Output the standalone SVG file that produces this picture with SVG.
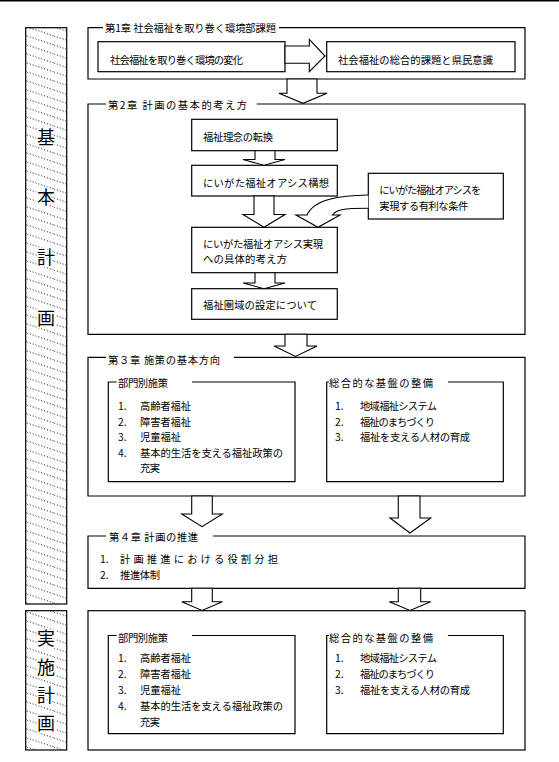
<svg xmlns="http://www.w3.org/2000/svg" width="559" height="762" viewBox="0 0 559 762">
<defs>
<pattern id="hatch" patternUnits="userSpaceOnUse" width="27" height="9">
<line x1="0" y1="0" x2="27" y2="9" stroke="#000" stroke-width="0.9" stroke-dasharray="1 2"/>
</pattern>
</defs>
<style>
.f{fill:none;stroke:#000;stroke-width:1.2}
.b{fill:#fff;stroke:#000;stroke-width:1.2}
.a{fill:#fff;stroke:#000;stroke-width:1.1;stroke-linejoin:miter}
text{font-family:"Noto Sans CJK JP","Noto Sans",sans-serif;font-size:10.3px;fill:#000}
.v{font-size:18px;text-anchor:middle;stroke:#fff;stroke-width:3;paint-order:stroke}
</style>
<rect x="0" y="0" width="559" height="1.5" fill="#000"/>

<g id="side-kihon">
<rect x="25.7" y="27.7" width="41" height="576.3" fill="url(#hatch)" stroke="#000" stroke-width="1.2"/>
<text class="v" x="46" y="143.5">基</text>
<text class="v" x="46" y="203.5">本</text>
<text class="v" x="46" y="263.5">計</text>
<text class="v" x="46" y="325">画</text>
</g>
<g id="side-jisshi">
<rect x="25.7" y="610.7" width="41" height="139.3" fill="url(#hatch)" stroke="#000" stroke-width="1.2"/>
<text class="v" x="46" y="645">実</text>
<text class="v" x="46" y="674">施</text>
<text class="v" x="46" y="702">計</text>
<text class="v" x="46" y="730">画</text>
</g>

<g id="ch1">
<path class="f" d="M103 27.7 H88 V79 H525 V27.7 H279"/>
<text x="105" y="32" textLength="171">第1章 社会福祉を取り巻く環境部課題</text>
<g id="ch1-env">
<rect class="b" x="98" y="41.7" width="187" height="30"/>
<text x="110" y="64" textLength="133">社会福祉を取り巻く環境の変化</text>
</g>
<g id="ch1-issue">
<rect class="b" x="326.7" y="41.7" width="188.3" height="30"/>
<text x="338" y="64" textLength="155">社会福祉の総合的課題と県民意識</text>
</g>
</g>

<g id="ch2">
<path class="f" d="M106 104 H88 V334.3 H525 V104 H256.7"/>
<text x="108" y="109" textLength="139">第2章 計画の基本的考え方</text>
<g id="ch2-rinen">
<rect class="b" x="191.7" y="119.3" width="145.6" height="31.4"/>
<text x="203" y="140.7" textLength="70">福祉理念の転換</text>
</g>
<g id="ch2-kousou">
<rect class="b" x="191.7" y="165.3" width="145.6" height="30.7"/>
<text x="203" y="186.7" textLength="126">にいがた福祉オアシス構想</text>
</g>
<g id="ch2-gutai">
<rect class="b" x="191.7" y="227.3" width="145.6" height="45.4"/>
<text x="203" y="248" textLength="120">にいがた福祉オアシス実現</text>
<text x="203" y="263" textLength="84">への具体的考え方</text>
</g>
<g id="ch2-kengiki">
<rect class="b" x="191.7" y="288.7" width="145.6" height="30.6"/>
<text x="203" y="309" textLength="114">福祉圏域の設定について</text>
</g>
<g id="ch2-jouken">
<rect class="b" x="368.3" y="173.3" width="135" height="45.7"/>
<text x="379.3" y="194" textLength="102">にいがた福祉オアシスを</text>
<text x="379.3" y="209.7" textLength="89">実現する有利な条件</text>
</g>
</g>

<g id="ch3">
<path class="f" d="M106 357.3 H88 V496 H525 V357.3 H234"/>
<text x="108" y="364" textLength="112">第３章 施策の基本方向</text>
<g id="ch3-bumon">
<path class="f" d="M116.7 382 H108.3 V481.7 H295 V382 H192"/>
<text x="118" y="387" textLength="50">部門別施策</text>
<text x="118" y="410">1.</text><text x="140" y="410" textLength="51">高齢者福祉</text>
<text x="118" y="426">2.</text><text x="140" y="426" textLength="51">障害者福祉</text>
<text x="118" y="441">3.</text><text x="140" y="441" textLength="41">児童福祉</text>
<text x="118" y="457">4.</text><text x="140" y="457" textLength="143">基本的生活を支える福祉政策の</text>
<text x="140" y="471.5" textLength="20">充実</text>
</g>
<g id="ch3-kiban">
<path class="f" d="M329 382 H326.7 V481.7 H503.3 V382 H448"/>
<text x="329" y="387" textLength="104">総合的な基盤の整備</text>
<text x="335" y="410">1.</text><text x="360" y="410" textLength="77">地域福祉システム</text>
<text x="335" y="426">2.</text><text x="360" y="426" textLength="75">福祉のまちづくり</text>
<text x="335" y="441">3.</text><text x="360" y="441" textLength="110">福祉を支える人材の育成</text>
</g>
</g>

<g id="ch4">
<path class="f" d="M106 536 H88 V588.3 H525 V536 H213"/>
<text x="109" y="540.7" textLength="89">第４章 計画の推進</text>
<text x="100" y="563">1.</text><text x="120" y="563" textLength="158">計画推進における役割分担</text>
<text x="100" y="579">2.</text><text x="120" y="579" textLength="40">推進体制</text>
</g>

<g id="jisshi">
<rect class="f" x="88" y="610.7" width="437" height="139.3"/>
<g id="jisshi-bumon">
<path class="f" d="M116.7 635.5 H108.3 V733.7 H295 V635.5 H192"/>
<text x="118" y="642" textLength="50">部門別施策</text>
<text x="118" y="662">1.</text><text x="140" y="662" textLength="51">高齢者福祉</text>
<text x="118" y="678">2.</text><text x="140" y="678" textLength="51">障害者福祉</text>
<text x="118" y="694">3.</text><text x="140" y="694" textLength="41">児童福祉</text>
<text x="118" y="710">4.</text><text x="140" y="710" textLength="143">基本的生活を支える福祉政策の</text>
<text x="140" y="726" textLength="20">充実</text>
</g>
<g id="jisshi-kiban">
<path class="f" d="M329 635.5 H326.7 V733.7 H503.3 V635.5 H448"/>
<text x="329" y="642" textLength="104">総合的な基盤の整備</text>
<text x="335" y="662">1.</text><text x="360" y="662" textLength="77">地域福祉システム</text>
<text x="335" y="678">2.</text><text x="360" y="678" textLength="75">福祉のまちづくり</text>
<text x="335" y="694">3.</text><text x="360" y="694" textLength="110">福祉を支える人材の育成</text>
</g>
</g>

<g id="connectors">
<polygon class="a" points="285,46 309.3,46 309.3,39.3 325,56 309.3,71.7 309.3,63.3 285,63.3"/>
<polygon class="a" points="287,79 317,79 317,93.3 327,93.3 303,103.3 279,93.3 287,93.3"/>
<polygon class="a" points="255,150.7 275,150.7 275,159.5 285,159.5 264,165.3 243,159.5 255,159.5"/>
<polygon class="a" points="254,196 274,196 274,214.5 285,214.5 264,227.3 243,214.5 254,214.5"/>
<polygon class="a" points="255,272.7 275,272.7 275,283 285,283 264,288.7 243,283 255,283"/>
<path class="a" d="M368.3 195 C 340 195.5, 314 199, 307 215 L 296 215 L 318 227.3 L 340 215 L 332.5 215 C 336 210, 342 208.3, 368.3 208.3"/>
<polygon class="a" points="285,334.3 307,334.3 307,346 317,346 295.5,356.5 274,346 285,346"/>
<polygon class="a" points="191.7,496 212.3,496 212.3,514 222.3,514 202,526.7 181.7,514 191.7,514"/>
<polygon class="a" points="398.3,496 420,496 420,518 430.7,518 410,533 390,518 398.3,518"/>
<polygon class="a" points="191.7,588.3 212.3,588.3 212.3,601.7 222.3,601.7 202,610.5 181.7,601.7 191.7,601.7"/>
<polygon class="a" points="398.3,588.3 420.7,588.3 420.7,601.7 430.7,601.7 410,610.5 389.3,601.7 398.3,601.7"/>
</g>
</svg>
